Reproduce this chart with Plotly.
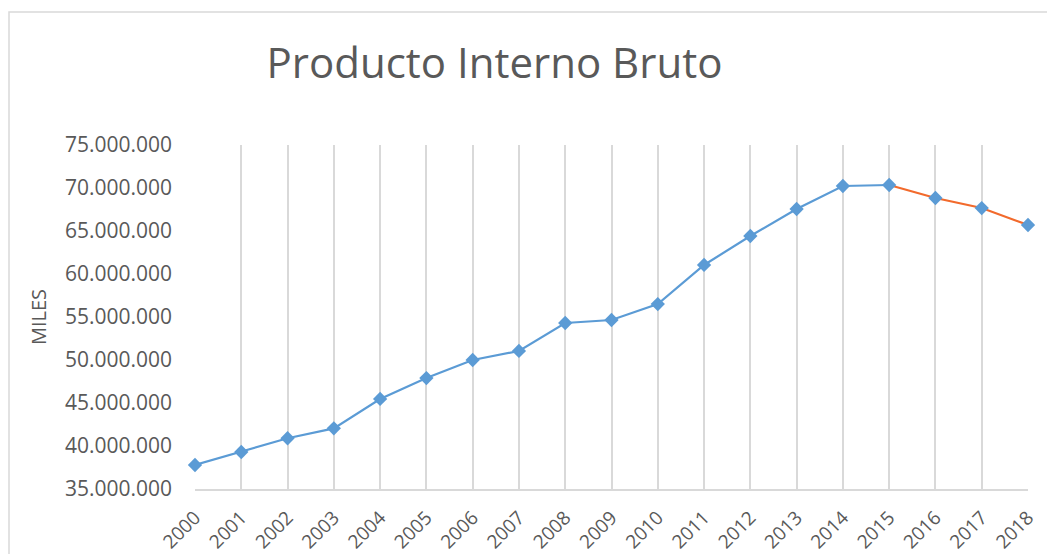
import plotly.graph_objects as go

years = list(range(2000, 2019))
pib = [37790000, 39300000, 40900000, 42050000, 45470000, 47900000, 50000000,
       51050000, 54300000, 54650000, 56500000, 61050000, 64420000, 67560000,
       70230000, 70350000, 68840000, 67670000, 65700000]
split_year = 2015
title_text = "Producto Interno Bruto"
y_title = "MILES"
y_ticks = [35000000, 40000000, 45000000, 50000000, 55000000, 60000000, 65000000, 70000000, 75000000]

blue = "#5B9BD5"
orange = "#F26A2C"
grid = "#D9D9D9"
txt = "#595959"
font = "Open Sans"

i = years.index(split_year)

fig = go.Figure()
fig.add_trace(go.Scatter(x=years[:i + 1], y=pib[:i + 1], mode="lines",
                         line=dict(color=blue, width=2.2), cliponaxis=False,
                         showlegend=False, hoverinfo="skip"))
fig.add_trace(go.Scatter(x=years[i:], y=pib[i:], mode="lines",
                         line=dict(color=orange, width=2.2), cliponaxis=False,
                         showlegend=False, hoverinfo="skip"))
fig.add_trace(go.Scatter(x=years, y=pib, mode="markers",
                         marker=dict(symbol="diamond", size=11, color=blue),
                         cliponaxis=False, showlegend=False))

# page has an 8px body margin; figure sized to fit the 1055x554 window
W, H = 1047, 546
fig.update_layout(
    width=W, height=H,
    margin=dict(l=187, r=27, t=137, b=65, autoexpand=False),
    paper_bgcolor="white", plot_bgcolor="white",
    separators=",.",
    font=dict(family=font, color=txt),
    title=dict(text=title_text, x=486.5 / W, xanchor="center", xref="container",
               y=1 - 55.5 / H, yanchor="middle", yref="container",
               font=dict(family=font, size=42, color=txt)),
    shapes=[dict(type="rect", xref="paper", yref="paper",
                 x0=(9 - 195) / 833, x1=1.2, y0=-0.5, y1=(489 - 12) / 344,
                 line=dict(color=grid, width=1.5), fillcolor="rgba(0,0,0,0)",
                 layer="below")],
)
fig.update_xaxes(range=[2000, 2018], tickmode="array", tickvals=years,
                 ticktext=[str(y) for y in years], tickangle=-45,
                 showgrid=True, gridcolor=grid, gridwidth=2,
                 showline=True, linecolor=grid, linewidth=2, automargin=False,
                 zeroline=False, ticks="", ticklabelstandoff=8,
                 tickfont=dict(family=font, size=19, color=txt))
fig.update_yaxes(range=[35000000, 75000000], tickmode="array", tickvals=y_ticks,
                 tickformat=",.0f", showgrid=False, zeroline=False, automargin=False,
                 showline=False, ticks="", ticklabelstandoff=22,
                 tickfont=dict(family=font, size=21, color=txt),
                 title=dict(text=y_title, standoff=12,
                            font=dict(family=font, size=20, color=txt)))

fig.write_html("out.html")
